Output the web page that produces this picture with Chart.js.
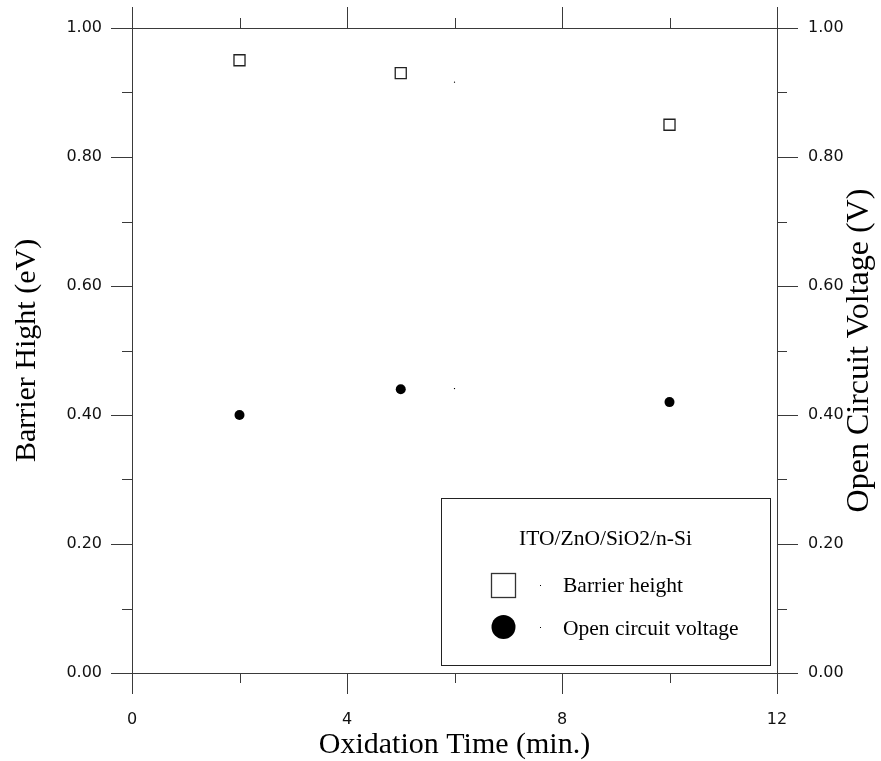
<!DOCTYPE html>
<html>
<head>
<meta charset="utf-8">
<title>Barrier height and open circuit voltage</title>
<script src="https://cdn.jsdelivr.net/npm/chart.js@4/dist/chart.umd.min.js"></script>
<style>
    html, body {
        margin: 0;
        padding: 0;
        background: #FFFFFF;
    }

    #chartBox {
        position: relative;
        width: 881px;
        height: 761px;
    }
</style>
</head>
<body>
<div id="chartBox">
    <canvas id="oxidationChart"></canvas>
</div>

<script>
const oxidationTimes = [2, 5, 10];
const barrierHeights = [0.95, 0.93, 0.85];
const openCircuitVoltages = [0.40, 0.44, 0.42];

// tiny stray marks that show up in the original plot
const strayTimes = [6, 6];
const strayValues = [0.916, 0.441];

const xMajorTicks = [0, 4, 8, 12];
const xMinorTicks = [2, 6, 10];
const yMajorTicks = [0, 0.2, 0.4, 0.6, 0.8, 1.0];
const yMinorTicks = [0.1, 0.3, 0.5, 0.7, 0.9];

const legendTitle = "ITO/ZnO/SiO2/n-Si";
const seriesNames = ["Barrier height", "Open circuit voltage"];

const axisTitles = {
    x: "Oxidation Time (min.)",
    yLeft: "Barrier Hight (eV)",
    yRight: "Open Circuit Voltage (V)"
};


document.addEventListener("DOMContentLoaded", function () {
    initializeOxidationChart();
});


function toPoints(xs, ys) {
    return xs.map(function (x, i) {
        return { x: x, y: ys[i] };
    });
}


const framePlugin = {
    id: "frameAxes",

    afterDraw: function (chart) {
        const ctx = chart.ctx;
        const area = chart.chartArea;
        const xScale = chart.scales.x;
        const yScale = chart.scales.y;

        const majorLen = 21;
        const minorLen = 10;

        ctx.save();
        ctx.strokeStyle = "#3A3A3A";
        ctx.lineWidth = 1;

        // frame
        ctx.strokeRect(
            Math.round(area.left) + 0.5,
            Math.round(area.top) + 0.5,
            Math.round(area.right - area.left),
            Math.round(area.bottom - area.top)
        );

        function tickX(value, len) {
            const px = Math.round(xScale.getPixelForValue(value)) + 0.5;
            ctx.beginPath();
            ctx.moveTo(px, area.top);
            ctx.lineTo(px, area.top - len);
            ctx.moveTo(px, area.bottom);
            ctx.lineTo(px, area.bottom + len);
            ctx.stroke();
        }

        function tickY(value, len) {
            const py = Math.round(yScale.getPixelForValue(value)) + 0.5;
            ctx.beginPath();
            ctx.moveTo(area.left, py);
            ctx.lineTo(area.left - len, py);
            ctx.moveTo(area.right, py);
            ctx.lineTo(area.right + len, py);
            ctx.stroke();
        }

        xMajorTicks.forEach(function (v) { tickX(v, majorLen); });
        xMinorTicks.forEach(function (v) { tickX(v, minorLen); });
        yMajorTicks.forEach(function (v) { tickY(v, majorLen); });
        yMinorTicks.forEach(function (v) { tickY(v, minorLen); });

        // tick labels
        ctx.fillStyle = "#111111";
        ctx.font = "16px 'DejaVu Sans'";

        ctx.textAlign = "center";
        ctx.textBaseline = "middle";
        xMajorTicks.forEach(function (v) {
            ctx.fillText(String(v), xScale.getPixelForValue(v), area.bottom + 47);
        });

        yMajorTicks.forEach(function (v) {
            const py = yScale.getPixelForValue(v);
            ctx.textAlign = "right";
            ctx.fillText(v.toFixed(2), area.left - 30, py);
            ctx.textAlign = "left";
            ctx.fillText(v.toFixed(2), area.right + 31, py);
        });

        // axis titles
        ctx.fillStyle = "#000000";
        ctx.font = "30px 'Liberation Serif'";
        ctx.textAlign = "center";
        ctx.textBaseline = "alphabetic";
        ctx.fillText(axisTitles.x, (area.left + area.right) / 2, 753);

        const midY = (area.top + area.bottom) / 2;

        ctx.save();
        ctx.translate(27, midY);
        ctx.rotate(-Math.PI / 2);
        ctx.textBaseline = "middle";
        ctx.fillText(axisTitles.yLeft, 0, 0);
        ctx.restore();

        ctx.save();
        ctx.font = "32px 'Liberation Serif'";
        ctx.translate(860, midY);
        ctx.rotate(-Math.PI / 2);
        ctx.textBaseline = "middle";
        ctx.fillText(axisTitles.yRight, 0, 0);
        ctx.restore();

        drawLegend(ctx);

        ctx.restore();
    }
};


function drawLegend(ctx) {
    const box = { left: 441, top: 498, width: 329, height: 167 };

    ctx.save();
    ctx.strokeStyle = "#222222";
    ctx.lineWidth = 1;
    ctx.strokeRect(box.left + 0.5, box.top + 0.5, box.width, box.height);

    ctx.fillStyle = "#000000";
    ctx.font = "21.5px 'Liberation Serif'";
    ctx.textAlign = "center";
    ctx.textBaseline = "alphabetic";
    ctx.fillText(legendTitle, box.left + box.width / 2, 545);

    // square marker
    ctx.lineWidth = 1.3;
    ctx.strokeStyle = "#333333";
    ctx.strokeRect(491.5, 573.5, 24, 24);

    // circle marker
    ctx.beginPath();
    ctx.arc(503.5, 627, 12, 0, Math.PI * 2);
    ctx.fill();

    // little dots between marker and label
    ctx.fillRect(540, 585, 1, 1);
    ctx.fillRect(540, 627, 1, 1);

    ctx.textAlign = "left";
    ctx.fillText(seriesNames[0], 563, 592);
    ctx.fillText(seriesNames[1], 563, 635);
    ctx.restore();
}


function initializeOxidationChart() {
    const canvas = document.getElementById("oxidationChart");

    if (!canvas || typeof Chart === "undefined") {
        return;
    }

    new Chart(canvas, {
        type: "scatter",

        data: {
            datasets: [
                {
                    label: seriesNames[0],
                    data: toPoints(oxidationTimes, barrierHeights),
                    pointStyle: "rect",
                    pointRadius: 7.8,
                    pointHoverRadius: 7.8,
                    backgroundColor: "#FFFFFF",
                    borderColor: "#222222",
                    borderWidth: 1.3,
                    clip: false
                },
                {
                    label: seriesNames[1],
                    data: toPoints(oxidationTimes, openCircuitVoltages),
                    pointStyle: "circle",
                    pointRadius: 5,
                    pointHoverRadius: 5,
                    backgroundColor: "#000000",
                    borderColor: "#000000",
                    borderWidth: 0,
                    clip: false
                },
                {
                    label: "stray",
                    data: toPoints(strayTimes, strayValues),
                    pointStyle: "rect",
                    pointRadius: 0.8,
                    backgroundColor: "#000000",
                    borderWidth: 0,
                    clip: false
                }
            ]
        },

        options: {
            responsive: true,
            maintainAspectRatio: false,
            animation: false,
            devicePixelRatio: 1,

            layout: {
                padding: {
                    left: 132,
                    right: 104,
                    top: 28,
                    bottom: 88
                }
            },

            scales: {
                x: {
                    type: "linear",
                    min: 0,
                    max: 12,
                    display: false
                },
                y: {
                    type: "linear",
                    min: 0,
                    max: 1,
                    display: false
                }
            },

            plugins: {
                legend: {
                    display: false
                },
                tooltip: {
                    enabled: false
                }
            }
        },

        plugins: [framePlugin]
    });
}
</script>
</body>
</html>
